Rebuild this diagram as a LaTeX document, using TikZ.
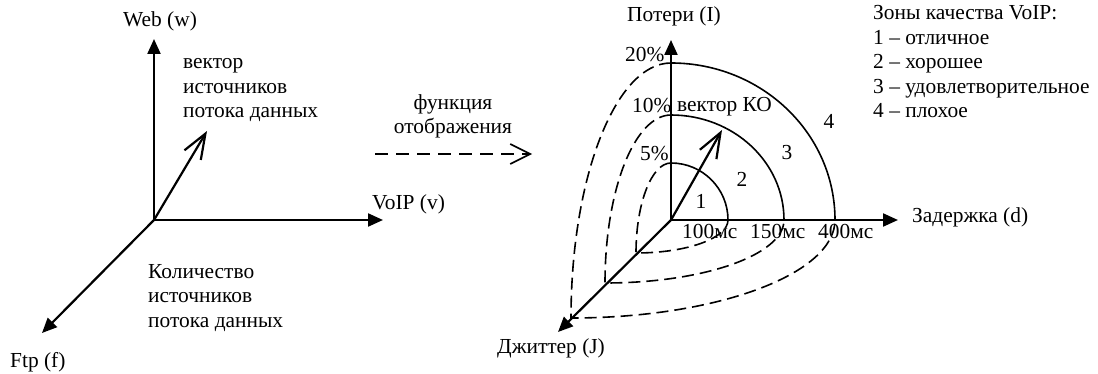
\documentclass[tikz,border=0pt]{standalone}
\usepackage{fontspec}
\setmainfont{Liberation Serif}
\usetikzlibrary{arrows.meta, positioning, calc}

\begin{document}
\begin{tikzpicture}[x=1pt, y=-1pt, font=\fontsize{21.4}{24.5}\selectfont,
  axis/.style={line width=2.2pt, -{Triangle[length=15pt, width=13pt]}},
  vec/.style={line width=2.2pt, -{Straight Barb[length=25pt, width=19pt]}},
  zoneline/.style={line width=1.6pt},
  projline/.style={line width=1.6pt, dash pattern=on 12pt off 6pt},
  lbl/.style={inner sep=0pt, anchor=base west},
  multi/.style={inner sep=0pt, anchor=base west, align=left}]
  \useasboundingbox (0,0) rectangle (1098,374);

  % source space
  \coordinate (O1) at (154,220);
  \coordinate (web) at (154,39);
  \coordinate (voip) at (383,220);
  \coordinate (ftp) at (42,333);
  \coordinate (src) at (207,131);
  \draw[axis] (O1) -- (web);
  \draw[axis] (O1) -- (voip);
  \draw[axis] (O1) -- (ftp);
  \draw[vec] (O1) -- (src);
  \node[lbl] (webl) at (123,27) {Web (w)};
  \node[lbl] (voipl) at (372,210) {VoIP (v)};
  \node[lbl] (ftpl) at (10,367) {Ftp (f)};
  % base of a multi-line node = baseline of its last line
  \node[multi] (srcl) at (183,118) {вектор\\источников\\потока данных};
  \node[multi] (numl) at (148,327) {Количество\\источников\\потока данных};

  % mapping
  \coordinate (mapA) at (375,154);
  \coordinate (mapB) at (532,154);
  \draw[line width=1.6pt, dash pattern=on 13pt off 8pt,
    -{Straight Barb[length=20pt, width=20pt]}] (mapA) -- (mapB);
  \node[inner sep=0pt, anchor=base, align=center] (mapl) at (453,134) {функция\\отображения};

  % quality space
  \coordinate (O2) at (671,220);
  \coordinate (loss) at (671,40);
  \coordinate (delay) at (898,220);
  \coordinate (jit) at (558,332);
  \coordinate (qos) at (722,130);

  \draw[zoneline] (728,220) arc[start angle=0, end angle=90, x radius=57pt, y radius=57pt];
  \draw[zoneline] (784,220) arc[start angle=0, end angle=90, x radius=113pt, y radius=105pt];
  \draw[zoneline] (835,220) arc[start angle=0, end angle=90, x radius=164pt, y radius=157pt];

  \draw[projline] (671,163) arc[start angle=90, end angle=180, x radius=35pt, y radius=90pt]
    arc[start angle=-90, end angle=0, x radius=92pt, y radius=33pt];
  \draw[projline] (671,115) arc[start angle=90, end angle=180, x radius=66pt, y radius=168pt]
    arc[start angle=-90, end angle=0, x radius=179pt, y radius=63pt];
  \draw[projline] (671,63) arc[start angle=90, end angle=180, x radius=100pt, y radius=255pt]
    arc[start angle=-90, end angle=0, x radius=264pt, y radius=98pt];

  \draw[axis] (O2) -- (loss);
  \draw[axis] (O2) -- (delay);
  \draw[axis] (O2) -- (jit);
  \draw[vec] (O2) -- (qos);

  \node[lbl] (lossl) at (627,22) {Потери (I)};
  \node[lbl] (delayl) at (912,223) {Задержка (d)};
  \node[lbl] (jitl) at (497,353) {Джиттер (J)};
  \node[lbl] (qosl) at (677,112) {вектор КО};
  \node[lbl] (p20) at (625,62) {20\%};
  \node[lbl] (p10) at (632,113) {10\%};
  \node[lbl] (p5) at (640,161) {5\%};
  \node[lbl] (d100) at (682,239) {100мс};
  \node[lbl] (d150) at (750,239) {150мс};
  \node[lbl] (d400) at (818,239) {400мс};
  \node[inner sep=0pt, anchor=base] (z1) at (701,209) {1};
  \node[inner sep=0pt, anchor=base] (z2) at (742,187) {2};
  \node[inner sep=0pt, anchor=base] (z3) at (787,160) {3};
  \node[inner sep=0pt, anchor=base] (z4) at (829,129) {4};

  \node[multi] (legend) at (873,118) {Зоны качества VoIP:\\1 – отличное\\2 – хорошее\\3 – удовлетворительное\\4 – плохое};
\end{tikzpicture}
\end{document}
